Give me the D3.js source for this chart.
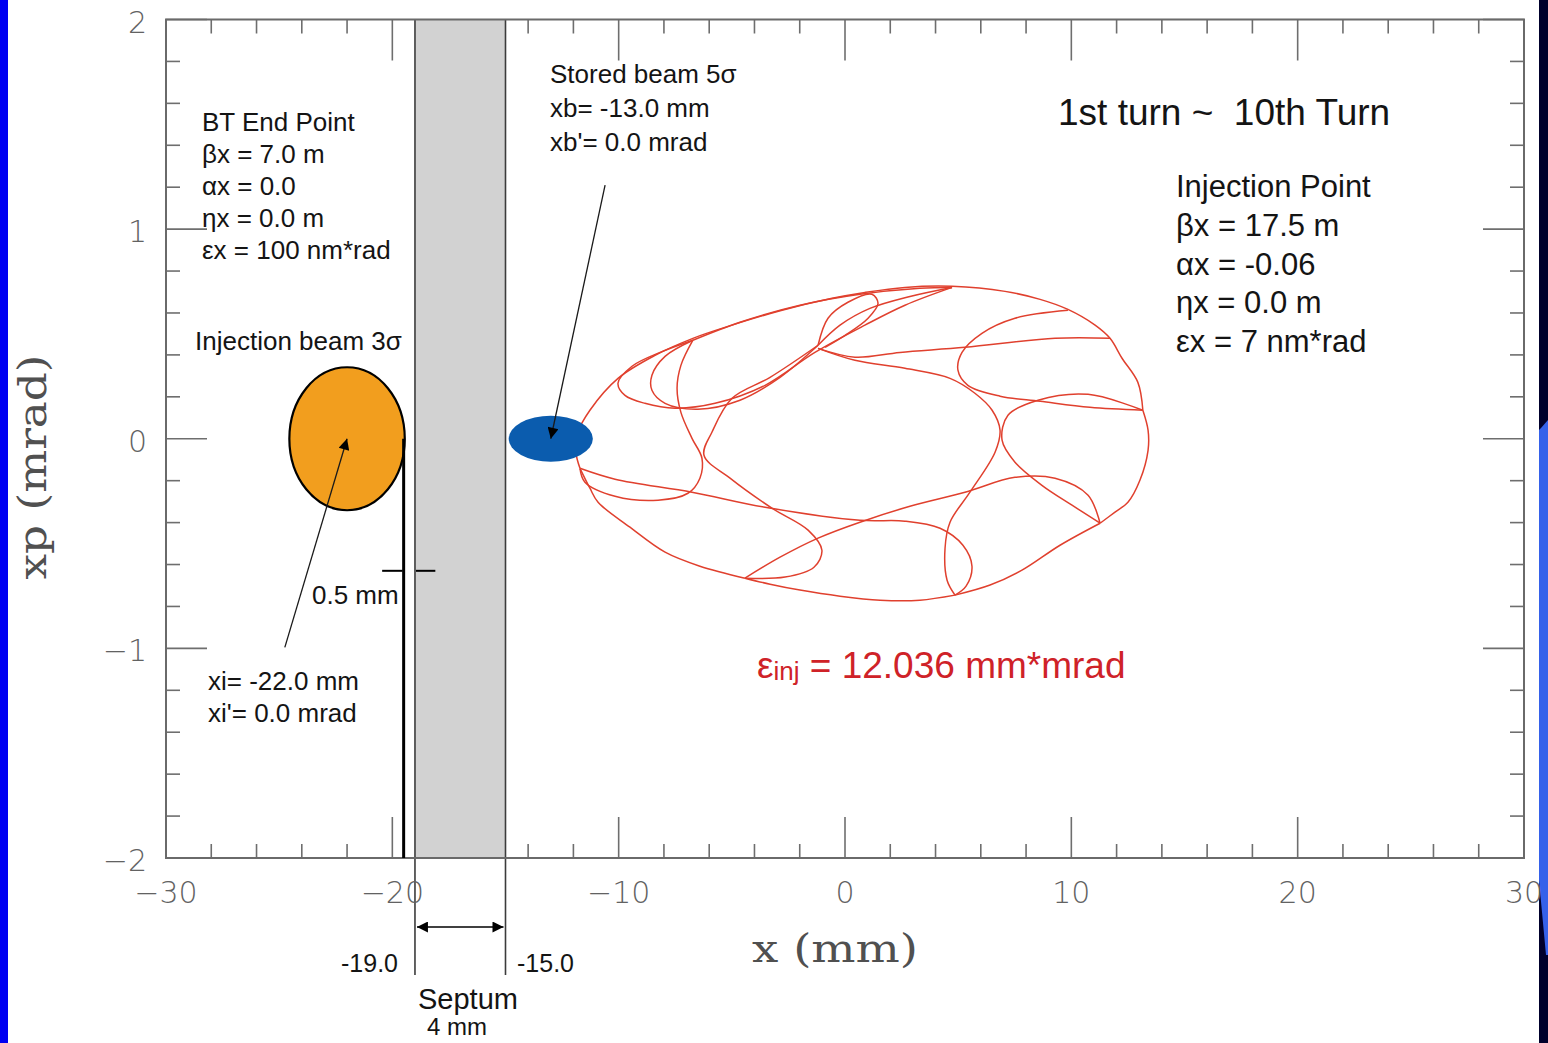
<!DOCTYPE html>
<html><head><meta charset="utf-8">
<script src="https://cdn.jsdelivr.net/npm/d3@7"></script>
<style>
html,body{margin:0;padding:0;background:#fff;}
svg{display:block;}
</style></head><body>
<svg id="chart" width="1548" height="1043"></svg>
<script>
// ---- axis ranges and tick labels ----
const xDomain = [-30, 30];
const yDomain = [-2, 2];
const xMajorTicks = [-30, -20, -10, 0, 10, 20, 30];
const yMajorTicks = [-2, -1, 0, 1, 2];
const xTickLabels = ["\u221230", "\u221220", "\u221210", "0", "10", "20", "30"];
const yTickLabels = ["\u22122", "\u22121", "0", "1", "2"];

// ---- injection geometry (mm / mrad) ----
const septumEdges = [-19.0, -15.0];
const injWallX = -19.5;
const gapMarkY = -0.63;
const injCenter = [-22.0, 0.0];
const injRadii = [2.55, 0.341];
const storedCenter = [-13.0, 0.0];
const storedRadii = [1.86, 0.11];

// ---- injected-beam centroid, 1st to 10th turn: traced strokes (x mm, xp mrad) ----
const orbitStrokes = [
  [[-11.71,-0.141],[-11.89,-0.064],[-11.80,0.031],[-11.27,0.136],[-10.03,0.288],[-8.39,0.398],[-6.72,0.479],[-4.99,0.542],[-2.78,0.613],[-0.57,0.670],[0.88,0.698],[2.65,0.722],[4.73,0.727],[7.07,0.703],[8.62,0.665],[9.85,0.617],[11.05,0.542],[11.71,0.479],[12.24,0.384],[12.94,0.269],[13.16,0.136]],
  [[13.16,0.136],[13.39,0.041],[13.39,-0.055],[13.03,-0.198],[12.50,-0.303],[11.93,-0.350],[11.27,-0.403]],
  [[11.27,-0.403],[9.50,-0.508],[7.82,-0.627],[6.41,-0.698],[4.86,-0.746]],
  [[4.86,-0.746],[3.31,-0.770],[1.55,-0.770],[-0.22,-0.751],[-1.99,-0.722],[-3.31,-0.694],[-4.42,-0.665]],
  [[-4.42,-0.665],[-6.41,-0.608],[-7.95,-0.541],[-9.50,-0.422],[-10.91,-0.303],[-11.27,-0.236],[-11.71,-0.141]],
  [[-6.72,0.470],[-8.17,0.412],[-9.41,0.346],[-10.03,0.265],[-9.72,0.207],[-8.84,0.169],[-7.51,0.146],[-5.74,0.169],[-3.53,0.255],[-1.33,0.412],[0.88,0.542],[2.65,0.637],[4.73,0.722]],
  [[-6.72,0.470],[-7.95,0.393],[-8.53,0.303],[-8.53,0.231],[-7.95,0.169],[-6.50,0.141],[-4.64,0.184],[-2.87,0.293],[-1.19,0.446]],
  [[-11.71,-0.141],[-11.49,-0.207],[-10.16,-0.274],[-8.26,-0.293],[-6.94,-0.260],[-6.41,-0.188],[-6.32,-0.093],[-6.76,0.002],[-7.25,0.126],[-7.42,0.241],[-7.25,0.350],[-6.72,0.470]],
  [[-1.19,0.446],[-3.31,0.293],[-4.99,0.193],[-5.88,0.031],[-6.23,-0.079],[-5.08,-0.188],[-3.23,-0.331],[-1.63,-0.436],[-1.02,-0.532],[-1.37,-0.613],[-2.65,-0.660],[-4.42,-0.665]],
  [[-4.42,-0.665],[-2.87,-0.565],[-1.19,-0.474],[0.66,-0.398],[2.87,-0.322],[5.30,-0.255],[7.51,-0.184],[9.28,-0.188],[10.74,-0.269],[11.27,-0.403]],
  [[-11.71,-0.141],[-10.16,-0.193],[-6.76,-0.255],[-3.53,-0.327],[0.66,-0.389],[2.65,-0.393],[4.20,-0.427],[5.21,-0.508],[5.61,-0.608],[5.35,-0.703],[4.86,-0.746]],
  [[4.86,-0.746],[4.51,-0.675],[4.42,-0.522],[4.64,-0.398],[5.52,-0.255],[6.63,-0.064],[6.85,0.041],[6.50,0.136],[5.74,0.217],[4.64,0.288],[2.65,0.336],[0.44,0.374],[-1.19,0.431]],
  [[13.16,0.136],[10.74,0.212],[8.53,0.184],[7.20,0.112],[6.94,-0.007],[7.51,-0.112],[8.70,-0.222],[10.03,-0.317],[11.27,-0.403]],
  [[9.85,0.613],[7.51,0.575],[6.05,0.503],[5.17,0.412],[4.99,0.327],[5.43,0.255],[6.85,0.203],[8.62,0.179],[10.82,0.150],[13.16,0.136]],
  [[11.71,0.479],[9.28,0.479],[5.30,0.436],[2.43,0.412],[0.44,0.389],[-1.19,0.431]],
  [[-1.19,0.446],[-0.22,0.542],[1.10,0.622],[2.87,0.679],[4.73,0.722]],
  [[-1.19,0.446],[-0.75,0.575],[0.13,0.651],[1.19,0.689],[1.46,0.646],[1.02,0.575],[0.00,0.493],[-0.88,0.436]],
  [[-6.72,0.470],[-4.64,0.556],[-1.99,0.637],[0.66,0.689],[3.31,0.718],[4.73,0.722]]
];

// ---- text blocks ----
const btLines = ["BT End Point", "\u03b2x = 7.0 m", "\u03b1x = 0.0", "\u03b7x = 0.0 m", "\u03b5x = 100 nm*rad"];
const injPointLines = ["Injection Point", "\u03b2x = 17.5 m", "\u03b1x = -0.06", "\u03b7x = 0.0 m", "\u03b5x = 7 nm*rad"];
const storedLines = ["Stored beam 5\u03c3", "xb= -13.0 mm", "xb'= 0.0 mrad"];
const injBeamLines = ["xi= -22.0 mm", "xi'= 0.0 mrad"];
const emittanceValue = "12.036";

const W = 1548, H = 1043;
const svg = d3.select("#chart");
const x = d3.scaleLinear().domain(xDomain).range([166, 1524]);
const y = d3.scaleLinear().domain(yDomain).range([858, 19.5]);

const SANS = "'Liberation Sans', Arial, sans-serif";
const INK = "#141414";

// slide edges
svg.append("rect").attr("x", 0).attr("y", 0).attr("width", 8).attr("height", H).attr("fill", "#0000f2");
svg.append("rect").attr("x", 1539).attr("y", 0).attr("width", 9).attr("height", H).attr("fill", "#00002c");
svg.append("polygon").attr("points", "1541,428 1548,420 1548,955 1546,955 1539,880 1539,430").attr("fill", "#3561ea");

// arrow markers
const defs = svg.append("defs");
defs.append("marker").attr("id", "head").attr("viewBox", "0 0 10 10").attr("refX", 10).attr("refY", 5)
  .attr("markerWidth", 13).attr("markerHeight", 11).attr("markerUnits", "userSpaceOnUse")
  .attr("orient", "auto-start-reverse")
  .append("path").attr("d", "M0,0 L10,5 L0,10 Z").attr("fill", "#000");

// ---- ticks (inward on all four sides) ----
const tickColor = "#6e6e6e";
const xMinor = d3.range(-30, 30.001, 2).filter(v => Math.abs(v % 10) > 1e-6);
const yMinor = d3.range(-2, 2.001, 0.2).filter(v => Math.abs(v - Math.round(v)) > 1e-6);
const ticks = svg.append("g").attr("stroke", tickColor).attr("stroke-width", 1.6);
function xTick(v, len) {
  ticks.append("line").attr("x1", x(v)).attr("x2", x(v)).attr("y1", y(-2)).attr("y2", y(-2) - len);
  ticks.append("line").attr("x1", x(v)).attr("x2", x(v)).attr("y1", y(2)).attr("y2", y(2) + len);
}
function yTick(v, len) {
  ticks.append("line").attr("x1", x(-30)).attr("x2", x(-30) + len).attr("y1", y(v)).attr("y2", y(v));
  ticks.append("line").attr("x1", x(30)).attr("x2", x(30) - len).attr("y1", y(v)).attr("y2", y(v));
}
xMinor.forEach(v => xTick(v, 14));
xMajorTicks.forEach(v => xTick(v, 41));
yMinor.forEach(v => yTick(v, 14));
yMajorTicks.forEach(v => yTick(v, 41));

// ---- septum ----
svg.append("rect")
  .attr("x", x(septumEdges[0])).attr("y", y(2))
  .attr("width", x(septumEdges[1]) - x(septumEdges[0])).attr("height", y(-2) - y(2))
  .attr("fill", "#d2d2d2");
septumEdges.forEach(v => {
  svg.append("line").attr("x1", x(v)).attr("x2", x(v)).attr("y1", y(2)).attr("y2", 975)
    .attr("stroke", "#3c3c3c").attr("stroke-width", 1.6);
});
svg.append("line")
  .attr("x1", x(septumEdges[0]) + 2).attr("x2", x(septumEdges[1]) - 2).attr("y1", 927).attr("y2", 927)
  .attr("stroke", "#000").attr("stroke-width", 1.5)
  .attr("marker-start", "url(#head)").attr("marker-end", "url(#head)");

// ---- frame ----
svg.append("rect").attr("x", x(-30)).attr("y", y(2)).attr("width", x(30) - x(-30)).attr("height", y(-2) - y(2))
  .attr("fill", "none").attr("stroke", "#6a6a6a").attr("stroke-width", 2);

// ---- tick labels ----
const tickFont = "'DejaVu Sans', sans-serif";
svg.append("g").selectAll("text").data(xMajorTicks).join("text")
  .attr("x", d => x(d)).attr("y", 903).attr("text-anchor", "middle")
  .attr("font-family", tickFont).attr("font-size", 30).attr("font-weight", 200).attr("fill", "#626262")
  .text((d, i) => xTickLabels[i]);
svg.append("g").selectAll("text").data(yMajorTicks).join("text")
  .attr("x", 147).attr("y", d => y(d) + 13).attr("text-anchor", "end")
  .attr("font-family", tickFont).attr("font-size", 30).attr("font-weight", 200).attr("fill", "#626262")
  .text((d, i) => yTickLabels[i]);

// axis titles
const serif = "'DejaVu Serif', 'Liberation Serif', serif";
svg.append("text").attr("x", 835).attr("y", 962).attr("text-anchor", "middle")
  .attr("font-family", serif).attr("font-size", 40).attr("fill", "#505050")
  .attr("textLength", 166).attr("lengthAdjust", "spacingAndGlyphs")
  .text("x (mm)");
svg.append("text").attr("transform", "translate(46,467) rotate(-90)").attr("text-anchor", "middle")
  .attr("font-family", serif).attr("font-size", 40).attr("fill", "#505050")
  .attr("textLength", 225).attr("lengthAdjust", "spacingAndGlyphs")
  .text("xp (mrad)");

// ---- tracked orbit ----
const orbitLine = d3.line().x(d => x(d[0])).y(d => y(d[1])).curve(d3.curveCatmullRom.alpha(0.5));
svg.append("g").selectAll("path").data(orbitStrokes).join("path")
  .attr("d", orbitLine).attr("fill", "none").attr("stroke", "#e0402e").attr("stroke-width", 1.5)
  .attr("stroke-linejoin", "round");

// ---- beams ----
svg.append("ellipse")
  .attr("cx", x(storedCenter[0])).attr("cy", y(storedCenter[1]))
  .attr("rx", x(storedCenter[0] + storedRadii[0]) - x(storedCenter[0]))
  .attr("ry", y(storedCenter[1]) - y(storedCenter[1] + storedRadii[1]))
  .attr("fill", "#0b5cae");
svg.append("ellipse")
  .attr("cx", x(injCenter[0])).attr("cy", y(injCenter[1]))
  .attr("rx", x(injCenter[0] + injRadii[0]) - x(injCenter[0]))
  .attr("ry", y(injCenter[1]) - y(injCenter[1] + injRadii[1]))
  .attr("fill", "#f29e1e").attr("stroke", "#000").attr("stroke-width", 2.2);

// injected-beam outer edge down to the bottom axis
svg.append("line").attr("x1", x(injWallX)).attr("x2", x(injWallX)).attr("y1", y(injCenter[1])).attr("y2", y(-2))
  .attr("stroke", "#000").attr("stroke-width", 3);
// 0.5 mm gap marks
svg.append("line").attr("x1", x(-20.45)).attr("x2", x(injWallX) - 1).attr("y1", y(gapMarkY)).attr("y2", y(gapMarkY))
  .attr("stroke", "#000").attr("stroke-width", 2);
svg.append("line").attr("x1", x(septumEdges[0]) + 1).attr("x2", x(-18.1)).attr("y1", y(gapMarkY)).attr("y2", y(gapMarkY))
  .attr("stroke", "#000").attr("stroke-width", 2);

// pointer arrows
svg.append("line").attr("x1", x(-10.6)).attr("y1", y(1.21)).attr("x2", x(storedCenter[0])).attr("y2", y(storedCenter[1]))
  .attr("stroke", "#1a1a1a").attr("stroke-width", 1.3).attr("marker-end", "url(#head)");
svg.append("line").attr("x1", x(-24.75)).attr("y1", y(-0.995)).attr("x2", x(injCenter[0])).attr("y2", y(injCenter[1]))
  .attr("stroke", "#1a1a1a").attr("stroke-width", 1.3).attr("marker-end", "url(#head)");

// ---- annotation text ----
function block(lines, x0, y0, dy, size) {
  const t = svg.append("text").attr("font-family", SANS).attr("font-size", size).attr("fill", INK);
  lines.forEach((s, i) => t.append("tspan").attr("x", x0).attr("y", y0 + i * dy).text(s));
}
block(btLines, 202, 131, 32, 26);
block(["Injection beam 3\u03c3"], 195, 350, 0, 26);
block(storedLines, 550, 83, 34, 26);
block(injPointLines, 1176, 197, 38.8, 31);
block(["0.5 mm"], 312, 604, 0, 26);
block(injBeamLines, 208, 690, 32, 26);

svg.append("text").attr("x", 1058).attr("y", 125).attr("font-family", SANS).attr("font-size", 37).attr("fill", INK)
  .attr("xml:space", "preserve").text("1st turn ~  10th Turn");

const eps = svg.append("text").attr("x", 757).attr("y", 678).attr("font-family", SANS).attr("font-size", 37).attr("fill", "#cf2228");
eps.append("tspan").text("\u03b5");
eps.append("tspan").attr("font-size", 26).attr("dy", 2).text("inj");
eps.append("tspan").attr("dy", -2).text(" = " + emittanceValue + " mm*mrad");

svg.append("text").attr("x", 398).attr("y", 972).attr("text-anchor", "end").attr("font-family", SANS).attr("font-size", 25).attr("fill", INK).text("-19.0");
svg.append("text").attr("x", 517).attr("y", 972).attr("font-family", SANS).attr("font-size", 25).attr("fill", INK).text("-15.0");
svg.append("text").attr("x", 468).attr("y", 1009).attr("text-anchor", "middle").attr("font-family", SANS).attr("font-size", 29).attr("fill", INK).text("Septum");
svg.append("text").attr("x", 457).attr("y", 1035).attr("text-anchor", "middle").attr("font-family", SANS).attr("font-size", 24).attr("fill", INK).text("4 mm");
</script>
</body></html>
